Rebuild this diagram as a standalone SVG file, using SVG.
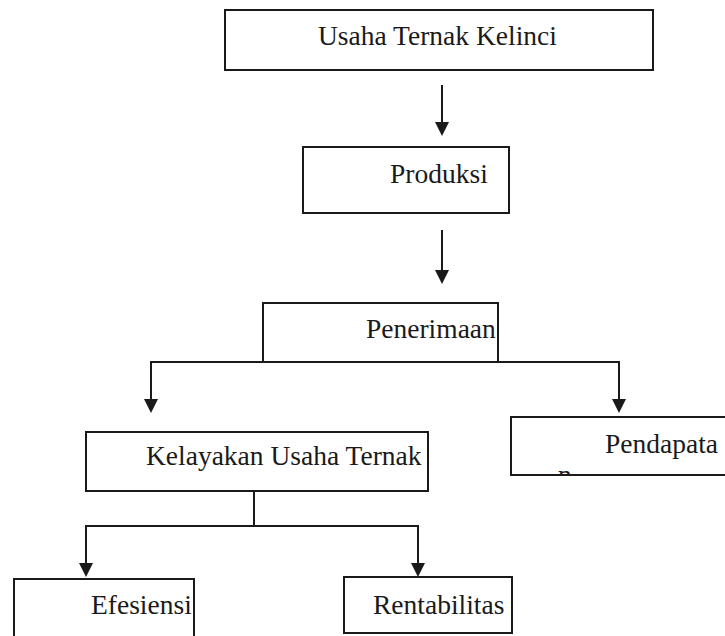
<svg xmlns="http://www.w3.org/2000/svg" width="725" height="636" viewBox="0 0 725 636">
<style>
.box{fill:#fff;stroke:#1a1a1a;stroke-width:2}
.t{font-family:"Liberation Serif","Times New Roman",serif;font-size:27.5px;fill:#1a1a1a}
.c{fill:none;stroke:#1a1a1a;stroke-width:2}
</style>
<defs>
<marker id="ah" markerWidth="14" markerHeight="14" viewBox="0 0 14 14" refX="7" refY="13" orient="auto-start-reverse" markerUnits="userSpaceOnUse">
<path d="M0,0 L14,0 L7,13 Z" fill="#1a1a1a" transform="rotate(-90 7 7)"/>
</marker>
<clipPath id="clipPend"><rect x="511" y="417" width="214" height="58"/></clipPath>
</defs>
<rect width="725" height="636" fill="#fff"/>
<g id="connectors">
<line class="c" x1="442" y1="85" x2="442" y2="122"/>
<path d="M435,122 L449,122 L442,136 Z" fill="#1a1a1a"/>
<line class="c" x1="442" y1="230" x2="442" y2="270"/>
<path d="M435,270 L449,270 L442,284 Z" fill="#1a1a1a"/>
<polyline class="c" points="263,362 151,362 151,399"/>
<path d="M144,399 L158,399 L151,413 Z" fill="#1a1a1a"/>
<polyline class="c" points="498,362 619,362 619,399"/>
<path d="M612,399 L626,399 L619,413 Z" fill="#1a1a1a"/>
<line class="c" x1="254" y1="491" x2="254" y2="526"/>
<polyline class="c" points="86,563 86,526 418,526 418,563"/>
<path d="M79,563 L93,563 L86,577 Z" fill="#1a1a1a"/>
<path d="M411,563 L425,563 L418,577 Z" fill="#1a1a1a"/>
</g>
<g id="usaha">
<rect class="box" x="225" y="10" width="428" height="60"/>
<text class="t" x="318" y="45">Usaha Ternak Kelinci</text>
</g>
<g id="produksi">
<rect class="box" x="303" y="147" width="206" height="66"/>
<text class="t" x="390" y="183">Produksi</text>
</g>
<g id="penerimaan">
<rect class="box" x="263" y="303" width="235" height="59"/>
<text class="t" x="366" y="338">Penerimaan</text>
</g>
<g id="pendapatan">
<rect class="box" x="511" y="417" width="220" height="58"/>
<text class="t" x="605" y="453">Pendapata</text>
<g clip-path="url(#clipPend)"><text class="t" x="558" y="484">n</text></g>
</g>
<g id="kelayakan">
<rect class="box" x="86" y="432" width="342" height="59"/>
<text class="t" x="146" y="465">Kelayakan Usaha Ternak</text>
</g>
<g id="efesiensi">
<rect class="box" x="14" y="579" width="180" height="70"/>
<text class="t" x="91" y="614">Efesiensi</text>
</g>
<g id="rentabilitas">
<rect class="box" x="344" y="577" width="168" height="56"/>
<text class="t" x="373" y="614">Rentabilitas</text>
</g>
</svg>
